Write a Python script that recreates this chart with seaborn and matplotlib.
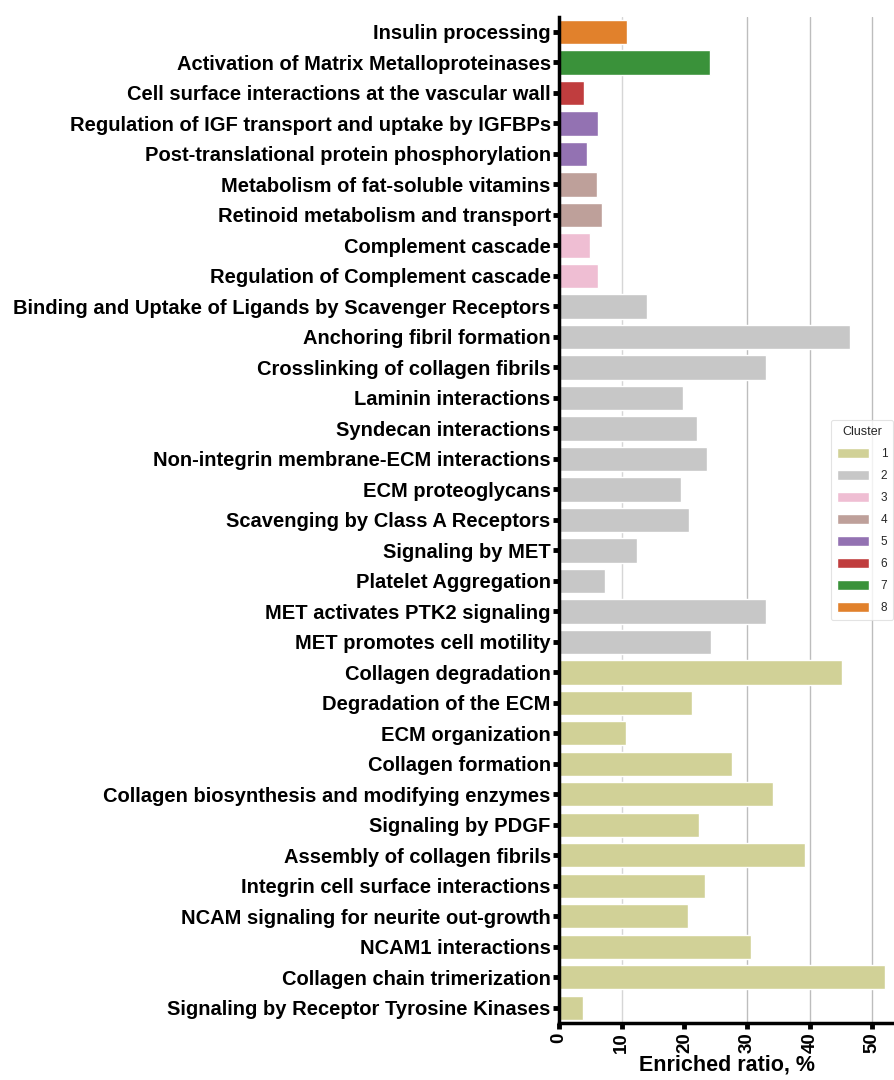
import matplotlib
matplotlib.use("Agg")
import matplotlib.pyplot as plt
import seaborn as sns
import pandas as pd

pathways = [
    "Insulin processing",
    "Activation of Matrix Metalloproteinases",
    "Cell surface interactions at the vascular wall",
    "Regulation of IGF transport and uptake by IGFBPs",
    "Post-translational protein phosphorylation",
    "Metabolism of fat-soluble vitamins",
    "Retinoid metabolism and transport",
    "Complement cascade",
    "Regulation of Complement cascade",
    "Binding and Uptake of Ligands by Scavenger Receptors",
    "Anchoring fibril formation",
    "Crosslinking of collagen fibrils",
    "Laminin interactions",
    "Syndecan interactions",
    "Non-integrin membrane-ECM interactions",
    "ECM proteoglycans",
    "Scavenging by Class A Receptors",
    "Signaling by MET",
    "Platelet Aggregation",
    "MET activates PTK2 signaling",
    "MET promotes cell motility",
    "Collagen degradation",
    "Degradation of the ECM",
    "ECM organization",
    "Collagen formation",
    "Collagen biosynthesis and modifying enzymes",
    "Signaling by PDGF",
    "Assembly of collagen fibrils",
    "Integrin cell surface interactions",
    "NCAM signaling for neurite out-growth",
    "NCAM1 interactions",
    "Collagen chain trimerization",
    "Signaling by Receptor Tyrosine Kinases",
]
enriched = [10.9, 24.1, 4.0, 6.2, 4.4, 6.1, 6.8, 4.9, 6.2, 14.1,
            46.5, 33.1, 19.8, 22.0, 23.6, 19.5, 20.8, 12.4, 7.4, 33.1, 24.2,
            45.1, 21.2, 10.7, 27.6, 34.2, 22.3, 39.2, 23.3, 20.5, 30.7, 52.0, 3.9]
clusters = [8, 7, 6, 5, 5, 4, 4, 3, 3, 2,
            2, 2, 2, 2, 2, 2, 2, 2, 2, 2, 2,
            1, 1, 1, 1, 1, 1, 1, 1, 1, 1, 1, 1]
cluster_levels = ["1", "2", "3", "4", "5", "6", "7", "8"]
cluster_colors = ["#dbdb8d", "#c7c7c7", "#f7b6d2", "#c49c94",
                  "#9467bd", "#d62728", "#2ca02c", "#ff7f0e"]
xticks = [0, 10, 20, 30, 40, 50]

df = pd.DataFrame({"Pathway": pathways, "Enriched": enriched,
                   "Cluster": [str(c) for c in clusters]})

sns.set_theme(style="white")
plt.rcParams["font.family"] = ["Liberation Sans", "DejaVu Sans"]

fig = plt.figure(figsize=(8.95, 10.8), dpi=100)
ax = fig.add_axes([0.6246, 0.0528, 0.3754, 0.9317])

sns.barplot(data=df, y="Pathway", x="Enriched", hue="Cluster",
            hue_order=cluster_levels, palette=dict(zip(cluster_levels, cluster_colors)),
            order=pathways, dodge=False, width=0.8, ax=ax)

ax.set_xlim(0, 53.6)
ax.set_xticks(xticks)
ax.set_xticklabels([str(t) for t in xticks], rotation=90, fontsize=13.5,
                   color="black", fontweight="bold")
ax.set_xlabel("Enriched ratio, %", fontsize=15.5, color="black", labelpad=1,
              fontweight="bold")
ax.set_ylabel("")
for lbl in ax.get_yticklabels():
    lbl.set_fontweight("bold")
    lbl.set_fontsize(14.5)
    lbl.set_color("black")
ax.tick_params(axis="y", colors="black", length=4, width=3.5, pad=2, left=True)
ax.tick_params(axis="x", colors="black", length=4, width=3.5, pad=3, bottom=True)

ax.grid(axis="x", color="#bdbdbd", linewidth=1.0)
ax.grid(axis="y", visible=False)
ax.set_axisbelow(True)
gl = ax.xaxis.get_gridlines()
if len(gl) > 2:
    gl[0].set_visible(False)
    gl[2].set_visible(False)
    gl[1].set_color("#d6d6d6")

for s in ["top", "right"]:
    ax.spines[s].set_visible(False)
for s in ["left", "bottom"]:
    ax.spines[s].set_color("black")
    ax.spines[s].set_linewidth(2.5)

leg = ax.legend(title="Cluster", loc="center right", bbox_to_anchor=(0.998, 0.5),
                borderaxespad=0.1,
                fontsize=8.5, title_fontsize=9, frameon=True,
                handlelength=2.7, handleheight=0.9, labelspacing=0.85,
                borderpad=0.5, handletextpad=1.0)
leg.get_frame().set_edgecolor("#dddddd")
leg.get_frame().set_linewidth(0.8)

fig.savefig("out.png", dpi=100)
